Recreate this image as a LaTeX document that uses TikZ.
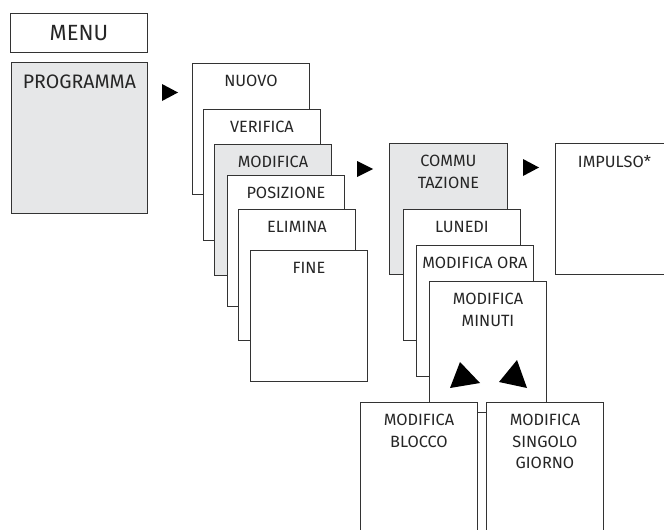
\documentclass[tikz,border=0pt]{standalone}
\usepackage{fontspec}
\setmainfont{Fira Sans}
\definecolor{boxgray}{HTML}{E6E7E8}
\definecolor{edgegray}{HTML}{333333}
\begin{document}
\begin{tikzpicture}[x=1pt, y=-1pt, line width=0.9pt,
  main box/.style={draw=edgegray,fill=white,anchor=north west,inner sep=0pt,minimum width=117pt,minimum height=131pt},
  grey box/.style={main box,fill=boxgray},
  lbl/.style={anchor=north,inner sep=0pt,align=center,text=black!85,font=\fontsize{16.3}{21.5}\selectfont},
  big lbl/.style={lbl,font=\fontsize{19.5}{22}\selectfont},
  tri/.style={fill=black,draw=none}]
\useasboundingbox (0,0) rectangle (664,530);
\clip (0,0) rectangle (664,530);
\begin{scope}
\node[main box,minimum width=137pt,minimum height=39pt] (menu) at (10,13) {};%menu
\node[grey box,minimum width=136pt,minimum height=151pt] (prog) at (11,62) {};%programma
\node[main box] (nuovo) at (192,63) {};%1
\node[main box] (verifica) at (203,109) {};%2
\node[grey box] (modifica) at (214,144) {};%3
\node[main box] (posizione) at (227,175) {};%4
\node[main box] (elimina) at (238,209) {};%5
\node[main box] (fine) at (250,250) {};%6
\node[grey box,minimum width=118pt] (commu) at (389,143) {};%7
\node[main box] (lunedi) at (403,209) {};%8
\node[main box] (modora) at (416,245) {};%9
\node[main box] (modmin) at (429,281) {};%10
\node[main box,minimum width=118pt] (impulso) at (555,143) {};%11
\node[main box,minimum height=150pt] (blocco) at (360,402) {};%12
\node[main box,minimum height=150pt] (singolo) at (486,402) {};%13
\end{scope}
\begin{scope}
\node[big lbl,font=\fontsize{22}{24}\selectfont] (menu-t) at ([yshift=-11.5pt]menu.north) {MENU};
\node[big lbl] (prog-t) at ([yshift=-12pt]prog.north) {PROGRAMMA};
\node[lbl] (nuovo-t) at ([yshift=-12pt]nuovo.north) {NUOVO};
\node[lbl] (verifica-t) at ([yshift=-12pt]verifica.north) {VERIFICA};
\node[lbl] (modifica-t) at ([yshift=-12pt]modifica.north) {MODIFICA};
\node[lbl] (posizione-t) at ([yshift=-12pt]posizione.north) {POSIZIONE};
\node[lbl] (elimina-t) at ([yshift=-12pt]elimina.north) {ELIMINA};
\node[lbl] (fine-t) at ([yshift=-12pt]fine.north) {FINE};
\node[lbl] (commu-t) at ([yshift=-12pt]commu.north) {COMMU\\TAZIONE};
\node[lbl] (lunedi-t) at ([yshift=-12pt]lunedi.north) {LUNEDI};
\node[lbl] (modora-t) at ([yshift=-12pt]modora.north) {MODIFICA ORA};
\node[lbl] (modmin-t) at ([yshift=-12pt]modmin.north) {MODIFICA\\MINUTI};
\node[lbl] (impulso-t) at ([yshift=-12pt]impulso.north) {IMPULSO*};
\node[lbl] (blocco-t) at ([yshift=-12pt]blocco.north) {MODIFICA\\BLOCCO};
\node[lbl] (singolo-t) at ([yshift=-12pt]singolo.north) {MODIFICA\\SINGOLO\\GIORNO};
\end{scope}
% arrow marks
\fill[tri] (162,84) -- (162,101) -- (178,92.5) -- cycle;
\fill[tri] (357,161) -- (357,177) -- (373,169) -- cycle;
\fill[tri] (523,159) -- (523,176) -- (539,167.5) -- cycle;
\fill[tri] (460,362) -- (450,388) -- (480,383) -- cycle;
\fill[tri] (517,360) -- (499,382) -- (527,388) -- cycle;
\end{tikzpicture}
\end{document}
